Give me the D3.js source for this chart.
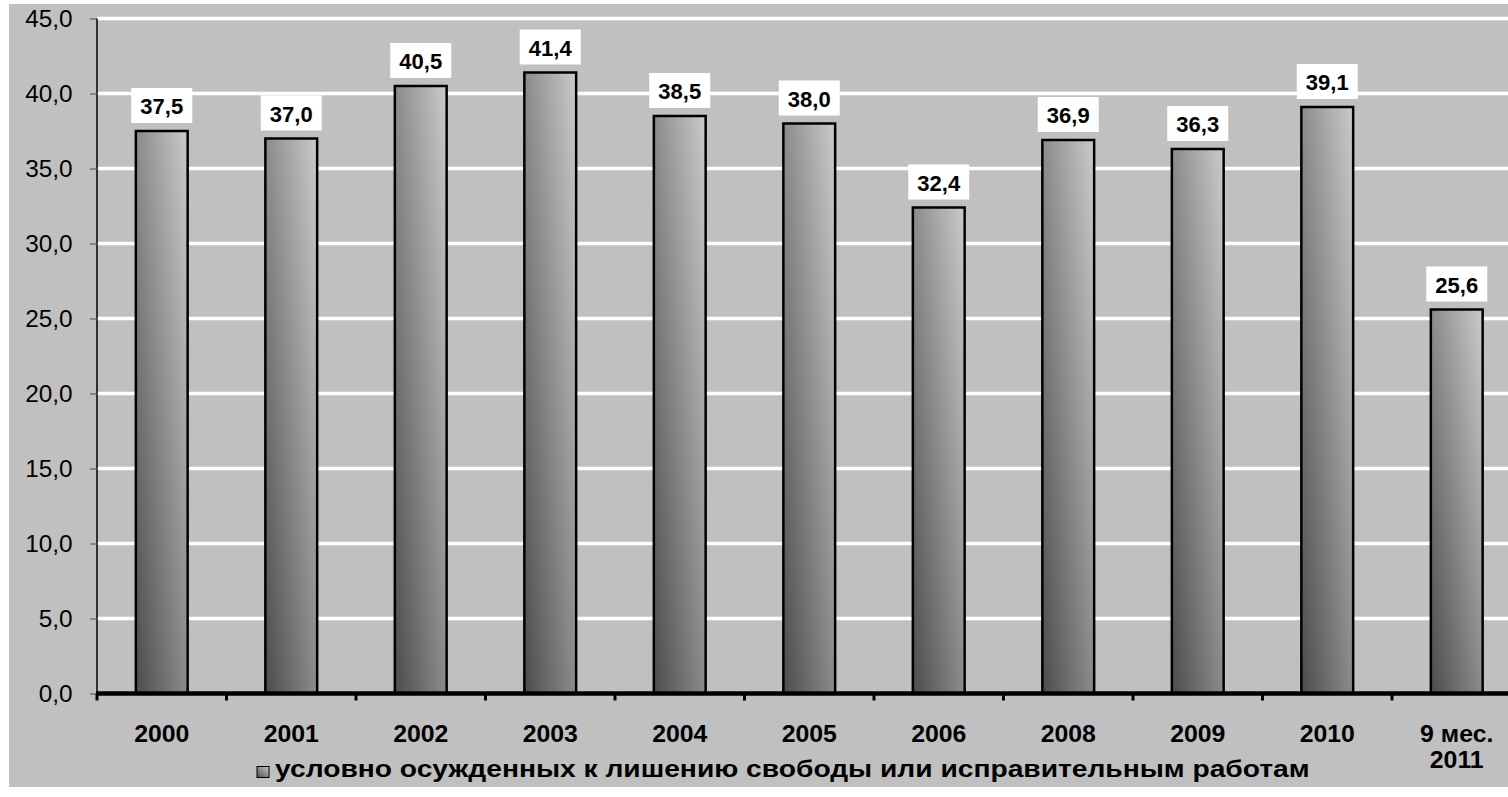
<!DOCTYPE html>
<html>
<head>
<meta charset="utf-8">
<script src="https://cdn.jsdelivr.net/npm/d3@7"></script>
<style>
html,body{margin:0;padding:0;background:#fff;}
svg{display:block;}
text{font-family:"Liberation Sans",Arial,sans-serif;}
</style>
</head>
<body>
<svg id="chart" width="1508" height="797"></svg>
<script>
const categories = ["2000","2001","2002","2003","2004","2005","2006","2008","2009","2010","9 мес.|2011"];
const values = [37.5,37.0,40.5,41.4,38.5,38.0,32.4,36.9,36.3,39.1,25.6];
const yTicks = [0,5,10,15,20,25,30,35,40,45];
const seriesName = "условно осужденных к лишению свободы или исправительным работам";
const fmt = v => v.toFixed(1).replace(".", ",");

const svg = d3.select("#chart");
const W = 1508, H = 797;
const plotLeft = 97, plotRight = 1521.5, plotTop = 18.5, plotBottom = 693.5;

// background
svg.append("rect").attr("x",9).attr("y",4).attr("width",W-9).attr("height",783).attr("fill","#c0c0c0");

const defs = svg.append("defs");
[["barGrad"],["legGrad"]].forEach(([id])=>{
  const g = defs.append("linearGradient").attr("id",id)
    .attr("x1","0").attr("y1","1").attr("x2","1").attr("y2","0");
  g.append("stop").attr("offset","0%").attr("stop-color","#4c4c4c");
  g.append("stop").attr("offset","100%").attr("stop-color","#cacaca");
});

const x = d3.scaleBand().domain(categories).range([plotLeft, plotRight]).paddingInner(0.6).paddingOuter(0.3);
const xb = d3.scaleBand().domain(categories).range([plotLeft, plotRight]).padding(0);
const y = d3.scaleLinear().domain([0,45]).range([plotBottom, plotTop]);

// gridlines
svg.append("g").selectAll("line").data(yTicks.filter(t=>t>0)).join("line")
  .attr("x1",plotLeft).attr("x2",W).attr("y1",d=>y(d)).attr("y2",d=>y(d))
  .attr("stroke","#ffffff").attr("stroke-width",3.5);

// y axis
const yAxis = svg.append("g").attr("transform",`translate(${plotLeft},0)`)
  .call(d3.axisLeft(y).tickValues(yTicks).tickFormat(fmt).tickSize(7).tickPadding(16));
yAxis.select(".domain").attr("stroke","#000").attr("stroke-width",1.5).attr("d",`M0,${plotTop}V${plotBottom}`);
yAxis.selectAll(".tick line").attr("stroke","#606060").attr("stroke-width",1.2);
yAxis.selectAll(".tick text").attr("font-size",23).attr("fill","#000").attr("dy","0.36em")
  .attr("transform","scale(1.06,1)");

// bars
svg.append("g").selectAll("rect").data(values).join("rect")
  .attr("x",(d,i)=>x(categories[i]))
  .attr("width",x.bandwidth())
  .attr("y",d=>y(d))
  .attr("height",d=>plotBottom-y(d))
  .attr("fill","url(#barGrad)")
  .attr("stroke","#000").attr("stroke-width",2.5);

// x axis
svg.append("line").attr("x1",plotLeft-1).attr("x2",W).attr("y1",plotBottom).attr("y2",plotBottom)
  .attr("stroke","#000").attr("stroke-width",4.5);
const bounds = categories.map(c=>xb(c));
svg.append("g").selectAll("line").data(bounds).join("line")
  .attr("x1",d=>d).attr("x2",d=>d).attr("y1",plotBottom).attr("y2",plotBottom+7)
  .attr("stroke","#000").attr("stroke-width",3);

// x labels
const xl = svg.append("g").selectAll("text").data(categories).join("text")
  .attr("transform",d=>`translate(${xb(d)+xb.bandwidth()/2},742) scale(1.08,1)`)
  .attr("text-anchor","middle")
  .attr("font-size",23).attr("font-weight","bold").attr("fill","#000");
xl.each(function(d){
  const parts = d.split("|");
  const t = d3.select(this);
  parts.forEach((p,k)=>{
    t.append("tspan").attr("x",0).attr("dy",k===0?0:26).text(p);
  });
});

// data labels
const lg = svg.append("g").selectAll("g").data(values).join("g")
  .attr("transform",(d,i)=>`translate(${x(categories[i])+x.bandwidth()/2},${y(d)-8})`);
lg.append("rect").attr("x",-30.5).attr("y",-35).attr("width",61).attr("height",35).attr("fill","#fff");
lg.append("text").attr("x",0).attr("y",-9).attr("text-anchor","middle")
  .attr("font-size",22).attr("font-weight","bold").attr("fill","#000").text(d=>fmt(d));

// legend
const leg = svg.append("g");
leg.append("rect").attr("x",257).attr("y",766.5).attr("width",12).attr("height",11)
  .attr("fill","url(#legGrad)").attr("stroke","#000").attr("stroke-width",1);
leg.append("text").attr("transform","translate(275,777) scale(1.175,1)")
  .attr("font-size",24).attr("font-weight","bold")
  .attr("fill","#000").text(seriesName);
</script>
</body>
</html>
